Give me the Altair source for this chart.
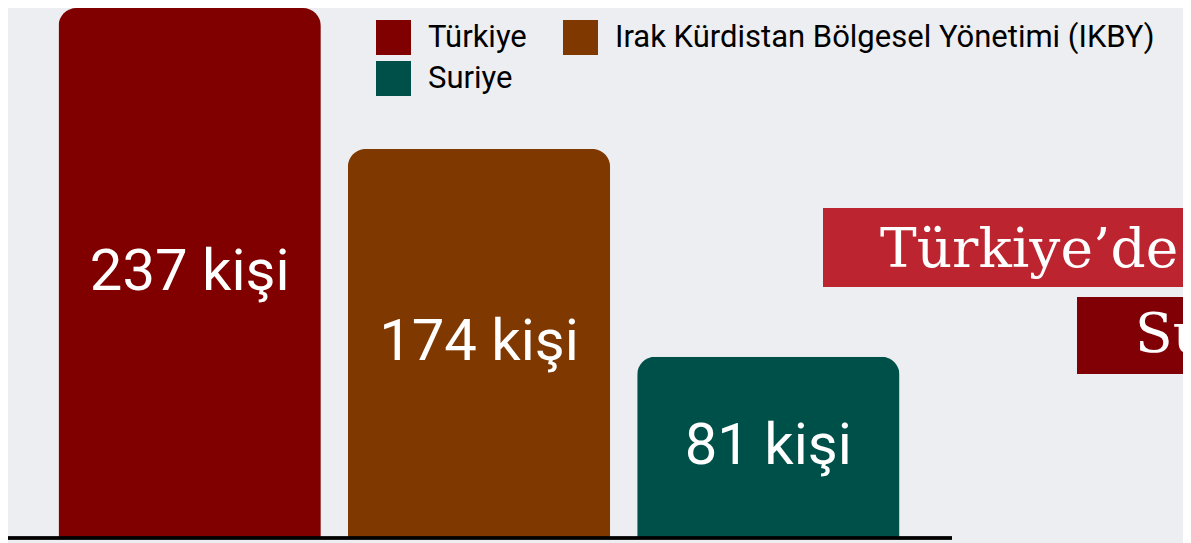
import altair as alt
import pandas as pd

countries = ["Türkiye", "Irak Kürdistan Bölgesel Yönetimi (IKBY)", "Suriye"]
values = [237, 174, 81]
labels = ["237 kişi", "174 kişi", "81 kişi"]
colors = ["#800000", "#7f3800", "#00504a"]

# legend grid fills column-wise, so list entries in the order that gives
# row 1: Türkiye, IKBY / row 2: Suriye
legend_order = [countries[0], countries[2], countries[1]]
legend_colors = [colors[0], colors[2], colors[1]]

note_lines = ["Türkiye’de", "Su"]
note_colors = ["#bc2530", "#800005"]

df = pd.DataFrame({"country": countries, "value": values, "label": labels})

x_enc = alt.X(
    "country:N",
    sort=countries,
    axis=None,
    scale=alt.Scale(range=[-3, 945], paddingInner=0.0934, paddingOuter=0.185),
)
y_scale = alt.Scale(domain=[0, 237], nice=False)

base = alt.Chart(df)

bars = base.mark_bar(cornerRadiusTopLeft=18, cornerRadiusTopRight=18).encode(
    x=x_enc,
    y=alt.Y("value:Q", axis=None, scale=y_scale),
    color=alt.Color(
        "country:N",
        scale=alt.Scale(domain=legend_order, range=legend_colors),
        legend=alt.Legend(
            title=None,
            orient="none",
            legendX=368,
            legendY=12,
            columns=2,
            symbolType="square",
            symbolSize=1225,
            symbolStrokeWidth=0,
            symbolOpacity=1,
            labelFont="Roboto",
            labelFontSize=31,
            labelColor="#000000",
            labelOffset=17,
            labelLimit=1000,
            columnPadding=36,
            rowPadding=6,
        ),
    ),
)

texts = base.transform_calculate(mid="datum.value / 2").mark_text(
    color="white", font="Roboto", fontSize=58, baseline="middle", align="center"
).encode(
    x=x_enc,
    y=alt.Y("mid:Q", scale=y_scale),
    text="label:N",
)

baseline_rule = base.mark_rule(color="#000000", strokeWidth=3).encode(
    y=alt.datum(0),
    x=alt.value(-3),
    x2=alt.value(944),
)

box1 = alt.Chart(pd.DataFrame({"t": [note_lines[0]]})).mark_rect(color=note_colors[0]).encode(
    x=alt.value(815), x2=alt.value(1300), y=alt.value(200), y2=alt.value(279)
)
box2 = alt.Chart(pd.DataFrame({"t": [note_lines[1]]})).mark_rect(color=note_colors[1]).encode(
    x=alt.value(1069), x2=alt.value(1300), y=alt.value(289), y2=alt.value(366)
)
txt1 = alt.Chart(pd.DataFrame({"t": [note_lines[0]]})).mark_text(
    color="white", font="DejaVu Serif", fontSize=55, align="left", baseline="alphabetic"
).encode(x=alt.value(872), y=alt.value(259), text="t:N")
txt2 = alt.Chart(pd.DataFrame({"t": [note_lines[1]]})).mark_text(
    color="white", font="DejaVu Serif", fontSize=55, align="left", baseline="alphabetic"
).encode(x=alt.value(1127), y=alt.value(344), text="t:N")

chart = (
    alt.layer(bars, texts, baseline_rule, box1, box2, txt1, txt2)
    .properties(
        width=1175,
        height=530,
        autosize=alt.AutoSizeParams(type="none"),
        padding={"left": 0, "top": 0, "right": 0, "bottom": 5},
        background="#eceef1",
    )
    .configure_view(strokeWidth=0)
)

chart.save("out.html", embed_options={"renderer": "svg", "actions": False})
